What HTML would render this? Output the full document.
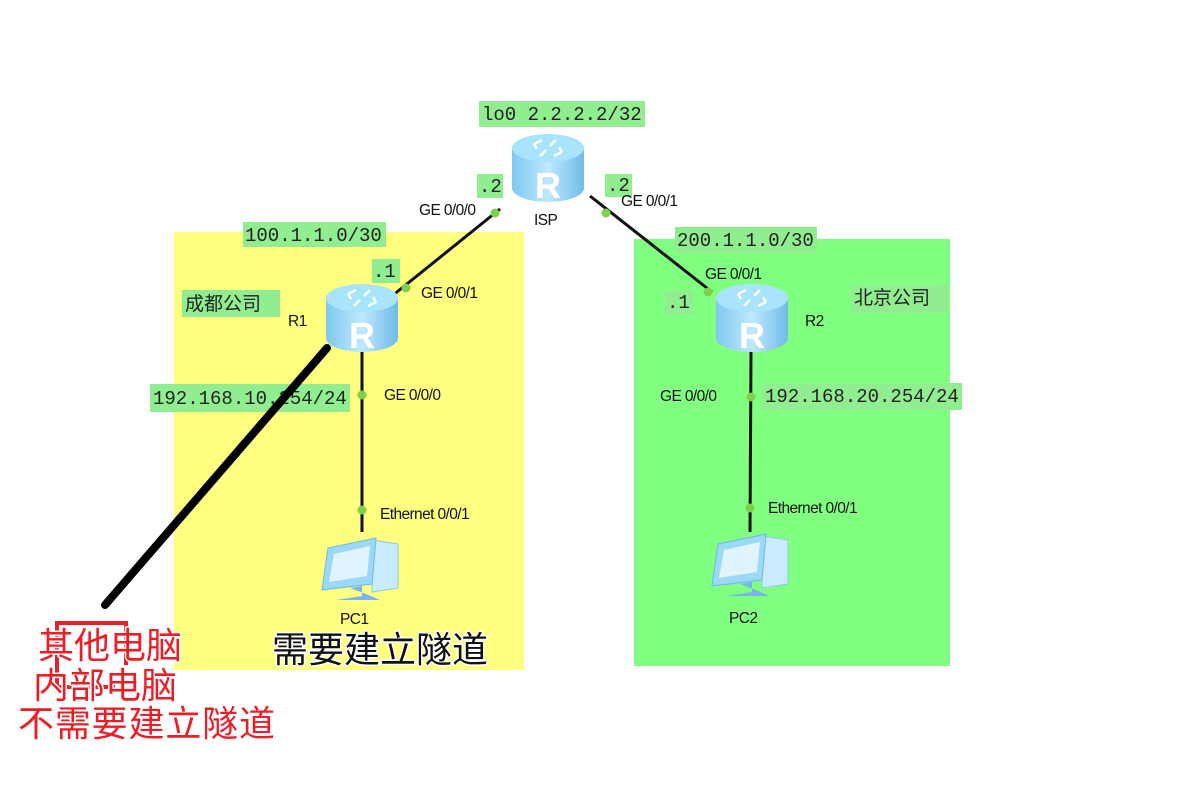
<!DOCTYPE html>
<html><head><meta charset="utf-8"><style>
html,body{margin:0;padding:0;background:#fff;width:1190px;height:788px;overflow:hidden}
svg{display:block}
.m{font-family:"Liberation Mono","DejaVu Sans Mono",monospace;font-size:19px;fill:#222}
.s{font-family:"Liberation Sans",sans-serif;font-size:15.5px;fill:#111;letter-spacing:-0.6px}
.c{font-family:"Liberation Sans","Noto Sans CJK SC",sans-serif}
</style></head><body>
<svg width="1190" height="788" viewBox="0 0 1190 788" xmlns="http://www.w3.org/2000/svg">
<defs>
<linearGradient id="rb" x1="0" x2="1" y1="0" y2="0">
<stop offset="0" stop-color="#7fc8f0"/><stop offset="0.5" stop-color="#bfe9ff"/><stop offset="1" stop-color="#6fbbe8"/></linearGradient>
<g id="router">
<path d="M-36,-22 L-36,18 A36,14 0 0 0 36,18 L36,-22 Z" fill="url(#rb)"/>
<ellipse cx="0" cy="-22" rx="36" ry="14" fill="#a8e4fb"/>
<path d="M-14,-26 l8,-4 M-14,-26 l3,5 M14,-18 l-8,4 M14,-18 l-3,-5 M-8,-14 l6,-6 M8,-30 l-6,6" stroke="#fff" stroke-width="2.5" fill="none"/>
<text x="0" y="28" text-anchor="middle" font-family="Liberation Sans,sans-serif" font-weight="bold" font-size="36" fill="#fff">R</text>
</g>
<g id="pc">
<path d="M14,-28 L40,-24 L40,20 L14,24 Z" fill="#c8ecfd" stroke="#8cc8ee"/>
<path d="M-30,-20 L18,-30 L14,16 L-36,22 Z" fill="#9cd8f8" stroke="#6ab8ec"/>
<path d="M-24,-14 L12,-22 L9,8 L-29,14 Z" fill="#dff4ff"/>
<path d="M-8,20 L4,18 L4,28 L-22,32 L22,32 L8,26 Z" fill="#7ab4f0"/>
</g>
</defs>
<rect x="174" y="232" width="350" height="438" fill="#ffff80"/>
<rect x="634" y="239" width="316" height="427" fill="#80ff80"/>
<g stroke="#111" stroke-width="3" fill="none">
<line x1="500" y1="209" x2="392" y2="296"/>
<line x1="590" y1="196" x2="712" y2="292"/>
<line x1="362" y1="350" x2="362" y2="532"/>
<line x1="751" y1="350" x2="750" y2="532"/>
</g>
<g fill="#7ed04a">
<circle cx="495" cy="213" r="4.5"/><circle cx="406" cy="288" r="4.5"/>
<circle cx="606" cy="213" r="4.5"/><circle cx="708" cy="292" r="4.5"/>
<circle cx="362" cy="395" r="4.5"/><circle cx="362" cy="510" r="4.5"/>
<circle cx="751" cy="397" r="4.5"/><circle cx="750" cy="508" r="4.5"/>
</g>
<use href="#router" x="548" y="170"/>
<use href="#router" x="362" y="320"/>
<use href="#router" x="752" y="320"/>
<use href="#pc" x="358" y="568"/>
<use href="#pc" x="748" y="564"/>
<g fill="#90ee90">
<rect x="479" y="101" width="166" height="26"/>
<rect x="477" y="174" width="26" height="24"/>
<rect x="605" y="174" width="27" height="23"/>
<rect x="243" y="222" width="143" height="25"/>
<rect x="372" y="259" width="28" height="24"/>
<rect x="182" y="290" width="98" height="27"/>
<rect x="150" y="384" width="200" height="28"/>
<rect x="675" y="227" width="142" height="26"/>
<rect x="665" y="290" width="28" height="24"/>
<rect x="851" y="285" width="97" height="28"/>
<rect x="762" y="383" width="200" height="27"/>
</g>
<text class="m" x="482" y="120">lo0 2.2.2.2/32</text>
<text class="m" x="479" y="192">.2</text>
<text class="m" x="607" y="191">.2</text>
<text class="m" x="245" y="241">100.1.1.0/30</text>
<text class="m" x="373" y="277">.1</text>
<text class="m" x="153" y="404">192.168.10.254/24</text>
<text class="m" x="677" y="246">200.1.1.0/30</text>
<text class="m" x="667" y="308">.1</text>
<text class="m" x="765" y="402">192.168.20.254/24</text>
<text class="c" x="185" y="310" font-size="19" fill="#222">成都公司</text>
<text class="c" x="854" y="304" font-size="19" fill="#222">北京公司</text>
<text class="s" x="419" y="215">GE 0/0/0</text>
<text class="s" x="534" y="225" font-size="16">ISP</text>
<text class="s" x="621" y="206">GE 0/0/1</text>
<text class="s" x="421" y="298">GE 0/0/1</text>
<text class="s" x="288" y="326" font-size="16">R1</text>
<text class="s" x="384" y="400">GE 0/0/0</text>
<text class="s" x="380" y="519">Ethernet 0/0/1</text>
<text class="s" x="340" y="624" font-size="16">PC1</text>
<text class="s" x="705" y="279">GE 0/0/1</text>
<text class="s" x="805" y="326" font-size="16">R2</text>
<text class="s" x="660" y="401">GE 0/0/0</text>
<text class="s" x="768" y="513">Ethernet 0/0/1</text>
<text class="s" x="729" y="623" font-size="16">PC2</text>
<line x1="327" y1="348" x2="105" y2="605" stroke="#000" stroke-width="8" stroke-linecap="round"/>
<path d="M57,687 L57,623 L126,623 L126,665 M57,687 L115,687" stroke="#e8202a" stroke-width="4" fill="none"/>
<g class="c" font-size="36" stroke="#fff" stroke-width="3" paint-order="stroke" stroke-linejoin="round">
<text x="272" y="662" fill="#111">需要建立隧道</text>
<text x="38" y="658" fill="#ee1c25">其他电脑</text>
<text x="33" y="698" fill="#ee1c25">内部电脑</text>
<text x="18" y="736" fill="#ee1c25" textLength="257">不需要建立隧道</text>
</g>
</svg>
</body></html>
